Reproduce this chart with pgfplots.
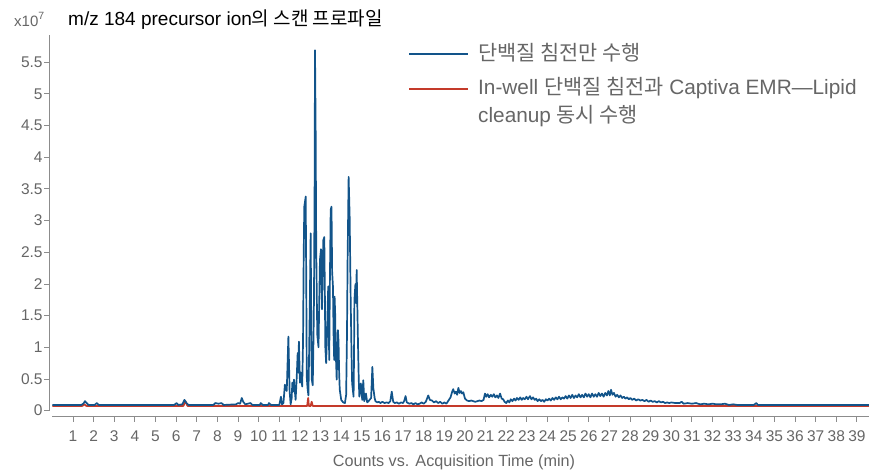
\documentclass[border=0pt]{standalone}
\usepackage{pgfplots}
\pgfplotsset{compat=1.18}
\usepackage{fontspec}
\setmainfont{Liberation Sans}
\newfontfamily\kr{Noto Sans CJK KR}
\definecolor{cblue}{RGB}{18,84,138}
\definecolor{cred}{RGB}{196,58,42}
\definecolor{axgray}{RGB}{140,140,140}
\definecolor{labgray}{RGB}{102,102,102}

\pgfplotstableread{
x y
0.00 0.09
1.40 0.09
1.50 0.11
1.58 0.15
1.66 0.12
1.75 0.09
2.05 0.09
2.15 0.12
2.25 0.09
5.90 0.09
6.02 0.12
6.10 0.09
6.30 0.10
6.40 0.17
6.50 0.12
6.60 0.09
7.80 0.09
7.90 0.12
8.05 0.11
8.20 0.12
8.30 0.09
8.90 0.10
9.00 0.12
9.10 0.11
9.18 0.20
9.25 0.14
9.35 0.10
9.60 0.12
9.70 0.09
10.05 0.09
10.10 0.12
10.20 0.09
10.45 0.09
10.50 0.12
10.60 0.09
11.00 0.09
11.08 0.22
11.13 0.10
11.20 0.12
11.27 0.41
11.36 0.31
11.44 1.17
11.50 0.30
11.55 0.10
11.60 0.20
11.63 0.44
11.67 0.30
11.71 0.49
11.76 0.28
11.79 0.17
11.84 0.50
11.89 0.91
11.92 0.60
11.95 1.09
12.00 0.44
12.05 0.60
12.11 0.38
12.15 1.10
12.18 2.38
12.21 3.22
12.28 3.38
12.31 1.80
12.33 0.53
12.37 0.35
12.41 0.24
12.44 0.80
12.47 1.48
12.52 2.80
12.55 1.30
12.57 0.50
12.62 0.40
12.66 1.20
12.68 1.75
12.71 3.50
12.73 5.69
12.76 4.50
12.79 2.54
12.84 1.20
12.90 1.00
12.94 1.80
12.97 2.38
13.02 2.55
13.07 1.60
13.10 2.10
13.13 2.69
13.18 2.74
13.21 1.80
13.23 1.00
13.27 0.75
13.32 1.30
13.37 1.96
13.42 0.80
13.45 2.00
13.49 3.17
13.53 3.22
13.56 2.20
13.60 1.96
13.63 1.20
13.66 0.80
13.68 1.80
13.71 1.50
13.73 0.96
13.76 0.70
13.78 0.49
13.81 0.90
13.84 1.27
13.87 1.10
13.90 0.60
13.93 0.33
14.00 0.17
14.10 0.13
14.18 0.12
14.24 0.25
14.28 1.20
14.31 2.38
14.36 3.69
14.41 3.06
14.46 1.74
14.50 0.90
14.53 0.43
14.60 0.22
14.62 0.80
14.64 1.75
14.69 2.00
14.72 1.70
14.75 2.22
14.79 1.50
14.82 0.96
14.85 0.50
14.88 0.22
14.95 0.43
15.02 0.17
15.07 0.48
15.12 0.15
15.20 0.27
15.26 0.13
15.35 0.16
15.45 0.20
15.51 0.69
15.56 0.35
15.62 0.20
15.66 0.15
15.75 0.13
15.82 0.14
15.9 0.12
16.0 0.14
16.1 0.12
16.2 0.13
16.3 0.12
16.38 0.15
16.45 0.30
16.52 0.14
16.6 0.12
16.7 0.13
16.8 0.11
16.9 0.13
17.0 0.12
17.06 0.16
17.12 0.23
17.18 0.13
17.3 0.11
17.4 0.12
17.5 0.10
17.6 0.12
17.7 0.10
17.8 0.11
17.9 0.13
18.0 0.11
18.1 0.14
18.16 0.19
18.22 0.24
18.3 0.17
18.4 0.16
18.5 0.13
18.6 0.15
18.7 0.12
18.8 0.14
18.9 0.11
19.0 0.13
19.1 0.11
19.2 0.16
19.3 0.21
19.38 0.30
19.43 0.34
19.5 0.27
19.56 0.30
19.62 0.25
19.68 0.36
19.74 0.28
19.8 0.31
19.86 0.27
19.92 0.29
20.0 0.19
20.1 0.16
20.2 0.15
20.3 0.16
20.4 0.15
20.5 0.14
20.6 0.15
20.7 0.16
20.8 0.15
20.9 0.17
20.97 0.27
21.03 0.22
21.1 0.26
21.17 0.21
21.25 0.25
21.32 0.22
21.4 0.26
21.47 0.21
21.55 0.24
21.62 0.20
21.7 0.27
21.78 0.19
21.85 0.18
21.92 0.14
22.0 0.12
22.08 0.16
22.15 0.13
22.22 0.18
22.3 0.15
22.38 0.19
22.45 0.16
22.52 0.20
22.6 0.17
22.68 0.21
22.75 0.17
22.82 0.20
22.9 0.18
22.98 0.22
23.05 0.18
23.15 0.23
23.22 0.18
23.3 0.21
23.38 0.17
23.45 0.19
23.52 0.15
23.6 0.18
23.68 0.15
23.76 0.17
23.84 0.14
23.92 0.18
24.0 0.16
24.08 0.19
24.16 0.16
24.24 0.20
24.32 0.17
24.4 0.21
24.48 0.18
24.56 0.22
24.64 0.18
24.72 0.21
24.8 0.19
24.88 0.23
24.96 0.19
25.04 0.24
25.12 0.20
25.2 0.25
25.28 0.20
25.36 0.24
25.44 0.21
25.52 0.26
25.6 0.21
25.68 0.25
25.76 0.21
25.84 0.27
25.92 0.22
26.0 0.26
26.08 0.21
26.16 0.27
26.24 0.22
26.32 0.26
26.4 0.22
26.48 0.28
26.56 0.23
26.64 0.27
26.72 0.22
26.8 0.28
26.88 0.24
26.95 0.31
27.02 0.24
27.08 0.33
27.15 0.25
27.22 0.28
27.3 0.22
27.38 0.25
27.46 0.21
27.54 0.24
27.62 0.20
27.7 0.22
27.78 0.19
27.86 0.21
27.94 0.18
28.02 0.20
28.1 0.17
28.2 0.19
28.3 0.16
28.4 0.18
28.5 0.16
28.6 0.17
28.7 0.15
28.8 0.17
28.9 0.14
29.0 0.16
29.1 0.14
29.2 0.15
29.3 0.13
29.4 0.15
29.5 0.13
29.6 0.14
29.7 0.12
29.8 0.13
29.9 0.12
30.0 0.13
30.2 0.12
30.4 0.12
30.5 0.14
30.6 0.11
30.8 0.12
31.0 0.11
31.2 0.12
31.4 0.10
31.6 0.11
31.8 0.10
32.0 0.11
32.2 0.10
32.4 0.10
32.6 0.11
32.8 0.09
33.0 0.10
33.2 0.09
34.0 0.09
34.12 0.12
34.2 0.09
39.6 0.09
}\bluedata

\pgfplotstableread{
x y
0.00 0.075
1.45 0.075
1.55 0.10
1.65 0.075
6.35 0.075
6.45 0.15
6.55 0.075
12.35 0.075
12.40 0.20
12.43 0.075
12.52 0.075
12.57 0.14
12.62 0.075
39.6 0.075
}\reddata

\begin{document}
\begin{tikzpicture}
\useasboundingbox (0pt,0pt) rectangle (869pt,470pt);
\begin{axis}[
  at={(49.3pt,53pt)}, anchor=south west,
  scale only axis, width=820pt, height=382pt,
  enlargelimits=false,
  xmin=-0.15, xmax=39.6, ymin=-0.1, ymax=5.93,
  axis x line=bottom, axis y line=left,
  axis line style={draw=none,-},
  xtick={1,...,39},
  ytick={0,0.5,1,1.5,2,2.5,3,3.5,4,4.5,5,5.5},
  yticklabels={0,0.5,1,1.5,2,2.5,3,3.5,4,4.5,5,5.5},
  tick align=outside, major tick length=5pt,
  tick style={color=axgray, line width=0.9pt},
  /pgf/number format/assume math mode=true,
  ticklabel style={font=\fontsize{15.5}{15.5}\selectfont, text=labgray},
  yticklabel style={inner xsep=1.5pt},
  xticklabel style={inner ysep=8.5pt},
  clip=false,
]
\addplot[cred, line width=1.8pt, line join=round] table[x=x,y=y]{\reddata};
\addplot[cblue, line width=1.7pt, line join=round] table[x=x,y=y]{\bluedata};
\draw[axgray, line width=1pt] (axis cs:-0.15,0) -- (axis cs:-0.15,5.93);
\draw[axgray, line width=1pt] (axis cs:0,-0.1) -- (axis cs:39.6,-0.1);
\end{axis}
% title and annotations
\node[anchor=base west, font=\fontsize{19}{19}\selectfont, text=black, inner sep=0] at (68pt,444pt) {m/z 184 precursor ion{\kr 의 스캔 프로파일}};
\node[anchor=base west, font=\fontsize{15}{15}\selectfont, text=labgray, inner sep=0] at (14pt,443pt) {x10\raisebox{0.5em}{\fontsize{10.5}{10.5}\selectfont 7}};
\node[font=\fontsize{16.2}{16.2}\selectfont, text=labgray] at (454pt,8pt) {Counts vs. Acquisition Time (min)};
% legend
\draw[cblue, line width=2.2pt] (409pt,415.7pt) -- (468pt,415.7pt);
\draw[cred, line width=2.2pt] (409pt,380.7pt) -- (468pt,380.7pt);
\node[anchor=west, font=\fontsize{20.8}{20.8}\selectfont, text=labgray, inner sep=0] at (478pt,417pt) {\kr 단백질 침전만 수행};
\node[anchor=west, font=\fontsize{20.8}{20.8}\selectfont, text=labgray, inner sep=0] at (478pt,382pt) {In-well {\kr 단백질 침전과} Captiva EMR—Lipid};
\node[anchor=west, font=\fontsize{20.8}{20.8}\selectfont, text=labgray, inner sep=0] at (478pt,354pt) {cleanup {\kr 동시 수행}};
\end{tikzpicture}
\end{document}
